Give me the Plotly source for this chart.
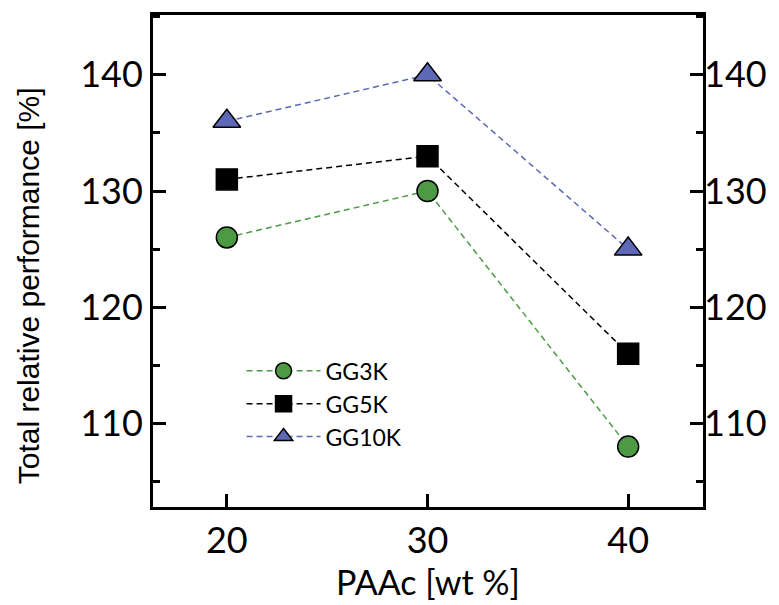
import plotly.graph_objects as go

paac = [20, 30, 40]
gg3k = [126, 130, 108]
gg5k = [131, 133, 116]
gg10k = [136, 140, 125]
series_names = ["GG3K", "GG5K", "GG10K"]

colors = ["#4c9a44", "#000000", "#5d68b6"]
line_colors = ["#4c9a44", "#000000", "#5d68b6"]
symbols = ["circle", "square", "triangle-up"]
sizes = [21, 21, 24]

fig = go.Figure()
for name, ys, c, lc, s, sz in zip(series_names, [gg3k, gg5k, gg10k], colors, line_colors, symbols, sizes):
    fig.add_trace(go.Scatter(
        x=paac, y=ys, name=name, mode="lines+markers",
        line=dict(color=lc, width=1.5, dash="6px,4px"),
        marker=dict(symbol=s, size=sz, color=c, line=dict(color="black", width=1.5)),
    ))

# invisible trace for right axis
fig.add_trace(go.Scatter(x=[paac[0]], y=[gg3k[0]], yaxis="y2", showlegend=False,
                         mode="markers", marker=dict(opacity=0), hoverinfo="skip"))

tickfont = dict(family="Lato", size=36, color="black")
yr = [102.8, 145.15]
fig.update_layout(
    width=779, height=605,
    margin=dict(l=153, r=73, t=14, b=98),
    plot_bgcolor="white", paper_bgcolor="white",
    showlegend=True,
    legend=dict(x=0.161, y=0.3205, xanchor="left", yanchor="top",
                font=dict(family="Lato", size=23, color="black"),
                bgcolor="rgba(0,0,0,0)", tracegroupgap=0, itemwidth=74),
    xaxis=dict(range=[16.32, 43.73], tickvals=paac, ticks="inside", ticklen=13,
               tickwidth=2.5, tickcolor="black", showline=True, linewidth=3,
               linecolor="black", mirror=True, showgrid=False, zeroline=False,
               tickfont=tickfont,
               title=dict(text="PAAc [wt %]", font=dict(family="Lato", size=34, color="black"), standoff=8)),
    yaxis=dict(range=yr, tickvals=[110, 120, 130, 140], ticks="inside", ticklen=13,
               tickwidth=2.5, tickcolor="black", showline=True, linewidth=3,
               linecolor="black", mirror=True, showgrid=False, zeroline=False,
               tickfont=tickfont,
               minor=dict(tickvals=[105, 115, 125, 135, 145], ticks="inside", ticklen=7,
                          tickwidth=2.5, tickcolor="black", showgrid=False)),
    yaxis2=dict(range=yr, overlaying="y", side="right", tickvals=[110, 120, 130, 140],
                ticks="inside", ticklen=13, tickwidth=2.5, tickcolor="black",
                showline=False, showgrid=False, zeroline=False, tickfont=tickfont,
                minor=dict(tickvals=[105, 115, 125, 135, 145], ticks="inside", ticklen=7,
                           tickwidth=2.5, tickcolor="black", showgrid=False)),
    annotations=[dict(text="Total relative performance [%]", xref="paper", yref="paper",
                      x=-0.226, y=0.45, xanchor="center", yanchor="middle", textangle=-90,
                      showarrow=False, font=dict(family="Liberation Sans", size=30, color="black"))],
)
fig.write_html("out.html")
